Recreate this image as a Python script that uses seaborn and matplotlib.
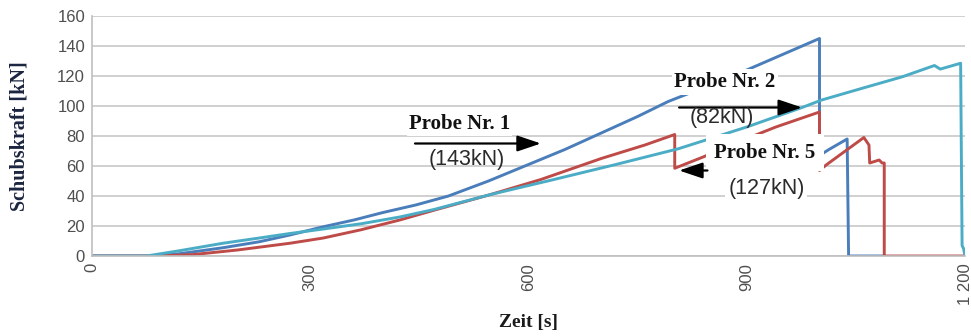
import numpy as np
import pandas as pd
import matplotlib.pyplot as plt
import seaborn as sns

sns.set_theme(style="white")

zeit_p1 = [0, 83, 120, 180, 230, 272, 318, 360, 400, 445, 490, 545, 600, 650, 700, 750,
           792, 850, 900, 950, 1000, 1000, 1013, 1038, 1040, 1090]
kraft_p1 = [0, 0, 1.5, 5.5, 9.5, 14, 19.5, 24, 29, 34, 40, 50, 61, 71, 82, 93,
            103, 114, 124, 134.5, 145, 67, 71, 78, 0, 0]

zeit_p2 = [0, 90, 140, 200, 272, 318, 370, 423, 470, 548, 617, 700, 760, 801,
           801, 840, 883, 940, 1000, 1000, 1010, 1061, 1068, 1069, 1082, 1086, 1089, 1089, 1198]
kraft_p2 = [0, 0, 1, 4, 8.5, 12, 17.5, 24, 30.5, 41, 51, 65, 74, 81,
            58.5, 66, 75, 86, 96, 57, 61, 79, 74, 62, 64, 62, 62, 0, 0]

zeit_p5 = [0, 75, 120, 180, 230, 272, 318, 370, 423, 470, 548, 635, 720, 806, 900, 976,
           1003, 1060, 1114, 1158, 1166, 1194, 1196, 1198, 1200]
kraft_p5 = [0, 0, 3.5, 8.5, 12, 15, 18, 21.5, 26, 31, 41, 51, 61, 71.5, 86, 99,
            104, 112, 119.5, 127, 124.6, 128.5, 7, 5, 0]

proben = ['Probe Nr. 1', 'Probe Nr. 2', 'Probe Nr. 5']
farben = {'Probe Nr. 1': '#4a7ebb', 'Probe Nr. 2': '#be4b48', 'Probe Nr. 5': '#4bacc6'}

df = pd.concat([
    pd.DataFrame({'zeit': zeit_p1, 'kraft': kraft_p1, 'probe': proben[0]}),
    pd.DataFrame({'zeit': zeit_p2, 'kraft': kraft_p2, 'probe': proben[1]}),
    pd.DataFrame({'zeit': zeit_p5, 'kraft': kraft_p5, 'probe': proben[2]}),
], ignore_index=True)

fig = plt.figure(figsize=(9.71, 3.36), dpi=100)
ax = fig.add_axes([92 / 971, 80 / 336, 873 / 971, 240 / 336])

sns.lineplot(data=df, x='zeit', y='kraft', hue='probe', palette=farben, sort=False,
             estimator=None, legend=False, linewidth=2.1, ax=ax)

ax.set_xlim(0, 1200)
ax.set_ylim(0, 160)
ax.set_yticks(np.arange(0, 161, 20))
ax.set_xticks([0, 300, 600, 900, 1200])
ax.set_xticklabels(['0', '300', '600', '900', '1 200'], rotation=90)
ax.yaxis.grid(True, color='#c8c8c8', linewidth=1.2)
ax.xaxis.grid(False)
for side in ['top', 'right']:
    ax.spines[side].set_visible(False)
for side in ['left', 'bottom']:
    ax.spines[side].set_color('#bfbfbf')
    ax.spines[side].set_linewidth(1.2)
ax.tick_params(axis='both', length=0, labelsize=12, labelcolor='#4f4f4f', pad=5)
for lbl in ax.get_xticklabels() + ax.get_yticklabels():
    lbl.set_family('Liberation Sans')

ax.set_xlabel('Zeit [s]', family='Liberation Serif', fontweight='bold', fontsize=14,
              color='#1a1a1a', labelpad=7)
ax.set_ylabel('Schubskraft [kN]', family='Liberation Serif', fontweight='bold', fontsize=14.5,
              color='#1c2540', labelpad=20)

titel = dict(family='Liberation Serif', fontweight='bold', fontsize=15, color='#111111',
             ha='center', va='center', zorder=5)
wert = dict(family='Liberation Sans', fontsize=15.5, color='#2a2a2a',
            ha='center', va='center', zorder=6)
pfeil = dict(arrowstyle='-|>,head_length=0.8,head_width=0.27', color='black', lw=1.6,
             mutation_scale=18, shrinkA=0, shrinkB=0)

# Probe Nr. 1
ax.text(505, 88, 'Probe Nr. 1', bbox=dict(facecolor='white', edgecolor='none', pad=1.5), **titel)
ax.annotate('', xy=(617, 75), xytext=(444, 75), arrowprops=pfeil, zorder=6)
ax.text(515, 64, '(143kN)', **wert)

# Probe Nr. 2
ax.text(870, 116, 'Probe Nr. 2', bbox=dict(facecolor='white', edgecolor='none', pad=2), **titel)
ax.annotate('', xy=(976, 99), xytext=(807, 99), arrowprops=pfeil, zorder=6)
ax.text(866, 92, '(82kN)', **wert)

# Probe Nr. 5
ax.text(925, 69, 'Probe Nr. 5', bbox=dict(facecolor='white', edgecolor='none', pad=6), **titel)
ax.annotate('', xy=(807, 57), xytext=(846, 57), arrowprops=pfeil, zorder=6)
ax.text(927, 45, '(127kN)', bbox=dict(facecolor='white', edgecolor='none', pad=2), **wert)

fig.savefig('out.png', dpi=100)
